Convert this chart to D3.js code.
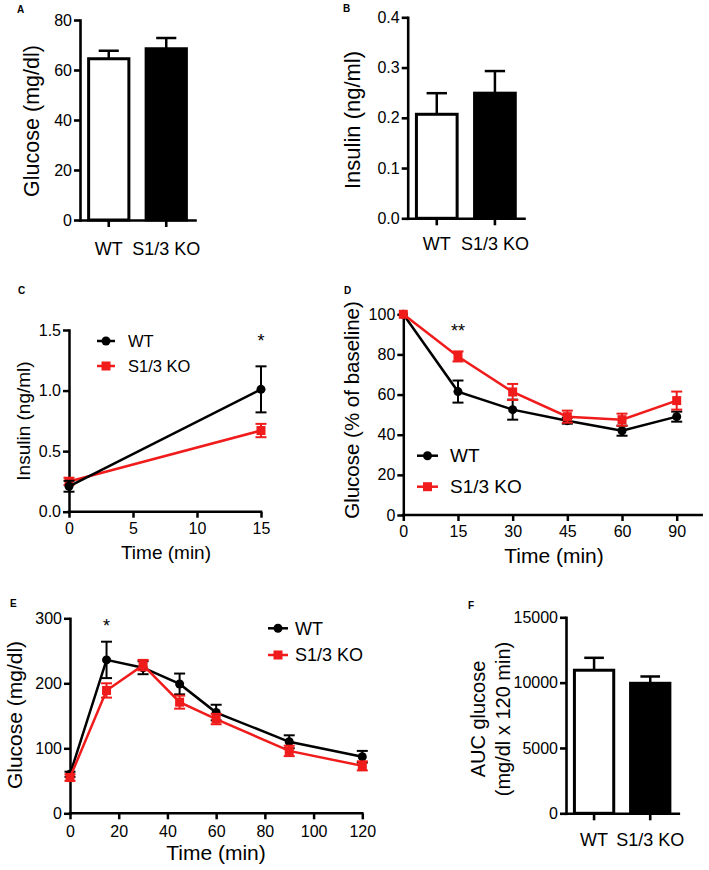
<!DOCTYPE html>
<html><head><meta charset="utf-8">
<script src="https://cdn.jsdelivr.net/npm/d3@7"></script>
<style>
body{margin:0;background:#fff}
svg{display:block}
text{font-family:"Liberation Sans",Arial,Helvetica,sans-serif;fill:#000}
</style>
</head><body>
<svg id="c" width="709" height="870"></svg>
<script>
// ---------- data ----------
const groups = ["WT", "S1/3 KO"];
// A: fasting glucose
const fastGlucoseMean = [64.5, 68.5];
const fastGlucoseSem = [3.2, 4.3];
const fastGlucoseTicks = [0, 20, 40, 60, 80];
// B: fasting insulin
const fastInsulinMean = [0.207, 0.249];
const fastInsulinSem = [0.042, 0.044];
const fastInsulinTicks = [0, 0.1, 0.2, 0.3, 0.4];
// C: GSIS insulin
const gsisTime = [0, 15];
const gsisWT = [0.21, 1.01];
const gsisWTSem = [0.045, 0.19];
const gsisKO = [0.25, 0.67];
const gsisKOSem = [0.03, 0.055];
const gsisYTicks = [0, 0.5, 1.0, 1.5];
const gsisXTicks = [0, 5, 10, 15];
// D: ITT (% of baseline)
const ittTime = ["0", "15", "30", "45", "60", "90"];
const ittWT = [100, 61.5, 52.5, 47, 42, 49];
const ittWTSem = [0, 5.5, 5, 1.5, 2.5, 2.5];
const ittKO = [100, 79, 61.3, 49, 47.5, 57];
const ittKOSem = [0, 2.5, 4, 3, 3, 4.5];
const ittYTicks = [0, 20, 40, 60, 80, 100];
// E: GTT glucose
const gttTime = [0, 15, 30, 45, 60, 90, 120];
const gttWT = [60, 236, 224, 199, 155, 110, 87];
const gttWTSem = [4, 28, 10, 16, 12, 10, 9];
const gttKO = [55, 189, 228, 171, 145, 96, 73];
const gttKOSem = [5, 11, 8, 10, 8, 8, 7];
const gttYTicks = [0, 100, 200, 300];
const gttXTicks = [0, 20, 40, 60, 80, 100, 120];
// F: AUC
const aucMean = [10950, 9950];
const aucSem = [950, 520];
const aucTicks = [0, 5000, 10000, 15000];

const RED = "#f01b1b";
const TICK_FS = 16;
const svg = d3.select("#c");

function styleAxis(g, fs, sw) {
  g.attr("font-family", null).attr("font-size", fs);
  g.selectAll(".domain").attr("stroke", "#000").attr("stroke-width", sw).attr("stroke-linecap", "square");
  g.selectAll(".tick line").attr("stroke", "#000").attr("stroke-width", sw);
  g.selectAll(".tick text").attr("fill", "#000");
}

function yTitle(g, lines, cx, cy, fs, gap) {
  const t = g.append("text").attr("transform", `translate(${cx},${cy}) rotate(-90)`)
    .attr("text-anchor", "middle").attr("font-size", fs);
  lines.forEach((l, i) => {
    t.append("tspan").attr("x", 0)
      .attr("y", (i - (lines.length - 1) / 2) * gap)
      .attr("dy", "0.35em").text(l);
  });
}

function panelLetter(txt, x, y) {
  svg.append("text").attr("x", x).attr("y", y).attr("font-size", 10)
    .attr("font-weight", "bold").text(txt);
}

function barPanel(c) {
  const g = svg.append("g");
  const y = d3.scaleLinear().domain([0, c.max]).range([c.yBot, c.yTop]);
  const x = d3.scaleBand().domain(groups).range([c.x0, c.x1]).paddingInner(0.3).paddingOuter(0.15);
  const data = groups.map((k, i) => ({k, m: c.means[i], e: c.sems[i], i}));
  const eb = g.append("g").attr("stroke", "#000").attr("stroke-width", 2.5);
  eb.selectAll("line.v").data(data).join("line").attr("class", "v")
    .attr("x1", d => x(d.k) + x.bandwidth() / 2).attr("x2", d => x(d.k) + x.bandwidth() / 2)
    .attr("y1", d => y(d.m)).attr("y2", d => y(d.m + d.e));
  eb.selectAll("line.c").data(data).join("line").attr("class", "c")
    .attr("x1", d => x(d.k) + x.bandwidth() / 4).attr("x2", d => x(d.k) + x.bandwidth() * 3 / 4)
    .attr("y1", d => y(d.m + d.e)).attr("y2", d => y(d.m + d.e));
  g.selectAll("rect").data(data).join("rect")
    .attr("x", d => x(d.k)).attr("width", x.bandwidth())
    .attr("y", d => y(d.m)).attr("height", d => c.yBot - y(d.m))
    .attr("fill", d => d.i ? "#000" : "#fff").attr("stroke", "#000").attr("stroke-width", 3);
  const ya = g.append("g").attr("transform", `translate(${c.x0},0)`)
    .call(d3.axisLeft(y).tickValues(c.ticks).tickFormat(c.fmt).tickSize(6).tickPadding(2).tickSizeOuter(0));
  styleAxis(ya, TICK_FS, 2.6);
  const xa = g.append("g").attr("transform", `translate(0,${c.yBot})`)
    .call(d3.axisBottom(x).tickSize(7).tickPadding(c.labPad).tickSizeOuter(0));
  styleAxis(xa, 18, 2.6);
  yTitle(g, c.title, c.tx, c.ty, c.tfs, c.tgap || 0);
}

function linePanel(c) {
  const g = svg.append("g");
  const x = c.x, y = c.y;
  const ya = g.append("g").attr("transform", `translate(${c.axX},0)`)
    .call(d3.axisLeft(y).tickValues(c.yTicks).tickFormat(c.yFmt).tickSize(6).tickPadding(2).tickSizeOuter(0));
  styleAxis(ya, TICK_FS, 2.5);
  const xAxis = d3.axisBottom(x).tickSize(6).tickPadding(c.xPad).tickSizeOuter(0);
  if (c.xTicks) xAxis.tickValues(c.xTicks);
  const xa = g.append("g").attr("transform", `translate(0,${c.axY})`).call(xAxis);
  styleAxis(xa, TICK_FS, 2.5);
  xa.select(".domain").attr("d", `M${c.axX},0H${c.xEnd}`);
  g.append("text").attr("x", c.xtX).attr("y", c.xtY).attr("text-anchor", "middle")
    .attr("font-size", c.xtFs).text("Time (min)");
  yTitle(g, [c.title], c.tx, c.ty, c.tfs, 0);

  c.series.forEach(s => {
    const pts = s.t.map((t, i) => ({t, v: s.v[i], e: s.e[i]}));
    g.append("path").datum(pts)
      .attr("d", d3.line().x(d => x(d.t)).y(d => y(d.v)))
      .attr("fill", "none").attr("stroke", s.color).attr("stroke-width", 2.5);
    const ebd = pts.filter(d => d.e > 0);
    const eb = g.append("g").attr("stroke", s.color).attr("stroke-width", 2);
    eb.selectAll("line.v").data(ebd).join("line").attr("class", "v")
      .attr("x1", d => x(d.t)).attr("x2", d => x(d.t))
      .attr("y1", d => y(d.v + d.e)).attr("y2", d => y(d.v - d.e));
    eb.selectAll("line.t").data(ebd).join("line").attr("class", "t")
      .attr("x1", d => x(d.t) - 5.5).attr("x2", d => x(d.t) + 5.5)
      .attr("y1", d => y(d.v + d.e)).attr("y2", d => y(d.v + d.e));
    eb.selectAll("line.b").data(ebd).join("line").attr("class", "b")
      .attr("x1", d => x(d.t) - 5.5).attr("x2", d => x(d.t) + 5.5)
      .attr("y1", d => y(d.v - d.e)).attr("y2", d => y(d.v - d.e));
    if (s.shape === "circle") {
      g.selectAll(null).data(pts).join("circle")
        .attr("cx", d => x(d.t)).attr("cy", d => y(d.v)).attr("r", 4.5).attr("fill", s.color);
    } else {
      g.selectAll(null).data(pts).join("rect")
        .attr("x", d => x(d.t) - 4.5).attr("y", d => y(d.v) - 4.5)
        .attr("width", 9).attr("height", 9).attr("fill", s.color);
    }
  });
  c.series.forEach((s, i) => {
    const ly = c.leg.y[i];
    g.append("line").attr("x1", c.leg.x0).attr("x2", c.leg.x1).attr("y1", ly).attr("y2", ly)
      .attr("stroke", s.color).attr("stroke-width", 2.5);
    const mx = (c.leg.x0 + c.leg.x1) / 2;
    if (s.shape === "circle") g.append("circle").attr("cx", mx).attr("cy", ly).attr("r", 4.5).attr("fill", s.color);
    else g.append("rect").attr("x", mx - 4.5).attr("y", ly - 4.5).attr("width", 9).attr("height", 9).attr("fill", s.color);
    g.append("text").attr("x", c.leg.tx).attr("y", ly).attr("dy", "0.35em")
      .attr("font-size", c.leg.fs).text(s.name);
  });
  c.sig.forEach(sg => {
    g.append("text").attr("x", x(sg.t)).attr("y", sg.y).attr("text-anchor", "middle")
      .attr("font-size", 18).text(sg.txt);
  });
}

// ---------- A ----------
panelLetter("A", 17, 13);
barPanel({x0: 80, x1: 195, yTop: 20, yBot: 220, max: 80, ticks: fastGlucoseTicks, fmt: d3.format("d"),
  means: fastGlucoseMean, sems: fastGlucoseSem, labPad: 15,
  title: ["Glucose (mg/dl)"], tx: 31, ty: 121, tfs: 21.5});

// ---------- B ----------
panelLetter("B", 343, 12);
barPanel({x0: 407.7, x1: 524, yTop: 17.3, yBot: 218.3, max: 0.4, ticks: fastInsulinTicks, fmt: d3.format(".1f"),
  means: fastInsulinMean, sems: fastInsulinSem, labPad: 12,
  title: ["Insulin (ng/ml)"], tx: 352, ty: 120, tfs: 22});

// ---------- C ----------
panelLetter("C", 18, 294);
linePanel({
  x: d3.scaleLinear().domain([0, 15]).range([69, 261]),
  y: d3.scaleLinear().domain([0, 1.5]).range([511.7, 330]),
  axX: 69, axY: 511.7, xEnd: 261, xTicks: gsisXTicks, xPad: 5,
  yTicks: gsisYTicks, yFmt: d3.format(".1f"),
  xtX: 166, xtY: 559, xtFs: 19,
  title: "Insulin (ng/ml)", tx: 23, ty: 421, tfs: 19,
  series: [
    {name: "S1/3 KO", t: gsisTime, v: gsisKO, e: gsisKOSem, color: RED, shape: "square"},
    {name: "WT", t: gsisTime, v: gsisWT, e: gsisWTSem, color: "#000", shape: "circle"}
  ],
  leg: {x0: 97, x1: 115, tx: 128, fs: 16.5, y: [366, 341]},
  sig: [{t: 15, y: 347, txt: "*"}]
});

// ---------- D ----------
panelLetter("D", 344, 294);
linePanel({
  x: d3.scalePoint().domain(ittTime).range([403.3, 676.7]),
  y: d3.scaleLinear().domain([0, 100]).range([515, 314.3]),
  axX: 403.3, axY: 515, xEnd: 701.7, xTicks: null, xPad: 5,
  yTicks: ittYTicks, yFmt: d3.format("d"),
  xtX: 554, xtY: 563, xtFs: 21,
  title: "Glucose (% of baseline)", tx: 352, ty: 410, tfs: 20.5,
  series: [
    {name: "WT", t: ittTime, v: ittWT, e: ittWTSem, color: "#000", shape: "circle"},
    {name: "S1/3 KO", t: ittTime, v: ittKO, e: ittKOSem, color: RED, shape: "square"}
  ],
  leg: {x0: 417, x1: 438, tx: 450, fs: 19, y: [455.7, 486.7]},
  sig: [{t: "15", y: 337, txt: "**"}]
});

// ---------- E ----------
panelLetter("E", 10, 607);
linePanel({
  x: d3.scaleLinear().domain([0, 120]).range([70, 362.3]),
  y: d3.scaleLinear().domain([0, 300]).range([813.3, 618.3]),
  axX: 70, axY: 813.3, xEnd: 362.3, xTicks: gttXTicks, xPad: 6,
  yTicks: gttYTicks, yFmt: d3.format("d"),
  xtX: 216, xtY: 860, xtFs: 21,
  title: "Glucose (mg/dl)", tx: 15, ty: 715, tfs: 21,
  series: [
    {name: "WT", t: gttTime, v: gttWT, e: gttWTSem, color: "#000", shape: "circle"},
    {name: "S1/3 KO", t: gttTime, v: gttKO, e: gttKOSem, color: RED, shape: "square"}
  ],
  leg: {x0: 268, x1: 288, tx: 295, fs: 18, y: [628.3, 655]},
  sig: [{t: 15, y: 632, txt: "*"}]
});

// ---------- F ----------
panelLetter("F", 468, 609);
barPanel({x0: 566, x1: 678.3, yTop: 617.3, yBot: 813.3, max: 15000, ticks: aucTicks, fmt: d3.format("d"),
  means: aucMean, sems: aucSem, labPad: 13,
  title: ["AUC glucose", "(mg/dl x 120 min)"], tx: 490.5, ty: 719, tfs: 20, tgap: 25});
</script>
</body></html>
